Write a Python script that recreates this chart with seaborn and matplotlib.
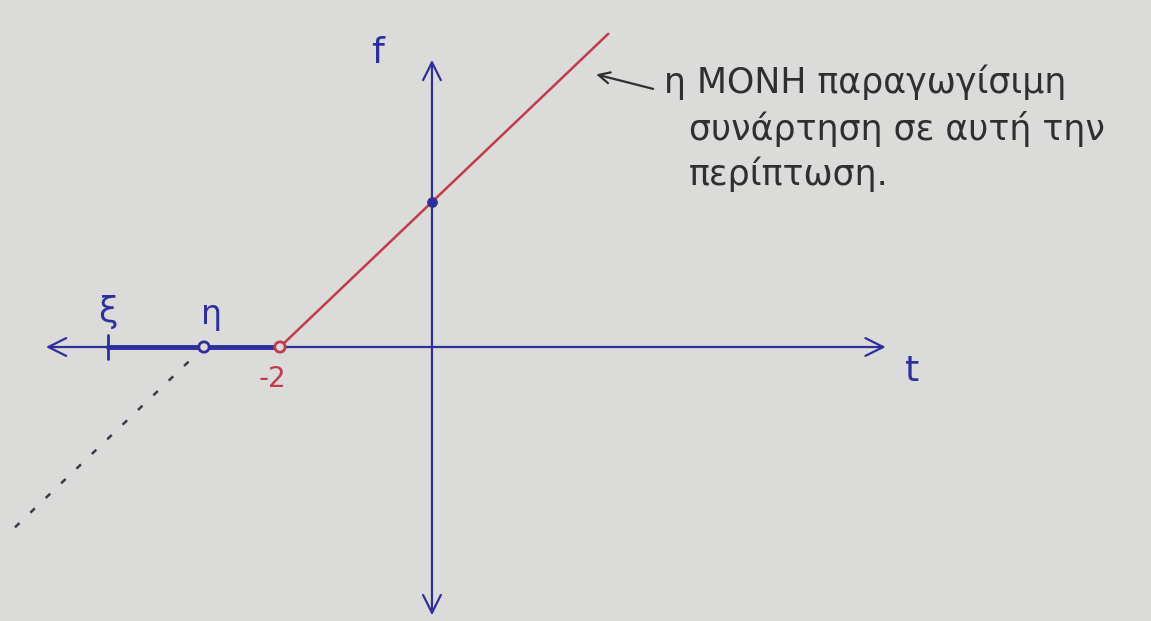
import matplotlib
matplotlib.use("Agg")
import matplotlib.pyplot as plt
import seaborn as sns
import pandas as pd

sns.set_theme(style="white")
plt.rcParams["font.family"] = ["DejaVu Sans"]

# piecewise sketch: f(t) = t + 2 for t >= -2, zero on [ξ, -2]
ray_t = [-2.0, 2.32]
ray_f = [0.0, 4.32]
ghost_t = [-3.0, -5.55]
ghost_f = [0.0, -2.55]
flat_t = [-4.26, -2.0]
flat_f = [0.0, 0.0]
open_pts_t = [-3.0, -2.0]
open_pts_f = [0.0, 0.0]
open_pts_c = ["blue", "red"]
fill_pt_t = [0.0]
fill_pt_f = [2.0]
tick_labels = ["ξ", "η", "-2"]
tick_pos = [-4.26, -3.0, -2.0]
note_lines = ["η ΜΟΝΗ παραγωγίσιμη", "συνάρτηση σε αυτή την", "περίπτωση."]

paper = "#dbdbd9"
ink_blue = "#2e2f9c"
ink_red = "#c23b4b"
ink_dark = "#2f2f2f"

fig = plt.figure(figsize=(11.51, 6.21), dpi=100, facecolor=paper)
ax = fig.add_axes([0, 0, 1, 1])
ax.set_facecolor(paper)
ax.set_xlim(-5.684, 9.461)
ax.set_ylim(-3.779, 4.786)
ax.axis("off")

# axes with arrowheads at both ends
ax.annotate("", xy=(5.97, 0), xytext=(-5.08, 0),
            arrowprops=dict(arrowstyle="<->", color=ink_blue, lw=1.6,
                            mutation_scale=32, shrinkA=0, shrinkB=0))
ax.annotate("", xy=(0, 3.96), xytext=(0, -3.70),
            arrowprops=dict(arrowstyle="<->", color=ink_blue, lw=1.6,
                            mutation_scale=32, shrinkA=0, shrinkB=0))

# thick segment on the axis
sns.lineplot(x=flat_t, y=flat_f, ax=ax, color=ink_blue, lw=3.5, sort=False)
# tick mark at ξ
ax.plot([tick_pos[0], tick_pos[0]], [-0.16, 0.16], color=ink_blue, lw=2)

# dashed continuation
sns.lineplot(x=ghost_t, y=ghost_f, ax=ax, color="#3a3a4a", lw=1.8,
             linestyle=(0, (2.5, 6)), sort=False)
# the ray
sns.lineplot(x=ray_t, y=ray_f, ax=ax, color=ink_red, lw=1.8, sort=False)

# endpoints
pts = pd.DataFrame({"t": open_pts_t, "f": open_pts_f, "c": open_pts_c})
sns.scatterplot(data=pts, x="t", y="f", ax=ax, s=55, facecolor=paper,
                edgecolor=[ink_blue, ink_red], linewidth=2, zorder=5,
                legend=False)
sns.scatterplot(x=fill_pt_t, y=fill_pt_f, ax=ax, s=50, color=ink_blue,
                edgecolor=ink_blue, zorder=5, legend=False)

# tick labels
ax.text(tick_pos[0], 0.25, tick_labels[0], color=ink_blue, fontsize=25,
        ha="center", va="bottom")
ax.text(tick_pos[1] + 0.1, 0.22, tick_labels[1], color=ink_blue, fontsize=24,
        ha="center", va="bottom")
ax.text(tick_pos[2] - 0.1, -0.25, tick_labels[2], color=ink_red, fontsize=20,
        ha="center", va="top")

# axis names
ax.text(-0.72, 4.05, "f", color=ink_blue, fontsize=26, ha="center",
        va="center")
ax.text(6.32, -0.33, "t", color=ink_blue, fontsize=26, ha="center",
        va="center")

# side note with pointer
ax.annotate("", xy=(2.16, 3.76), xytext=(2.91, 3.56),
            arrowprops=dict(arrowstyle="->", color=ink_dark, lw=1.6,
                            mutation_scale=20, shrinkA=0, shrinkB=0))
line_y = [3.65, 3.0, 2.38]
line_x = [3.05, 3.38, 3.38]
for txt, xx, yy in zip(note_lines, line_x, line_y):
    ax.text(xx, yy, txt, color=ink_dark, fontsize=25, ha="left",
            va="center")

fig.savefig("out.png", dpi=100, facecolor=paper)
